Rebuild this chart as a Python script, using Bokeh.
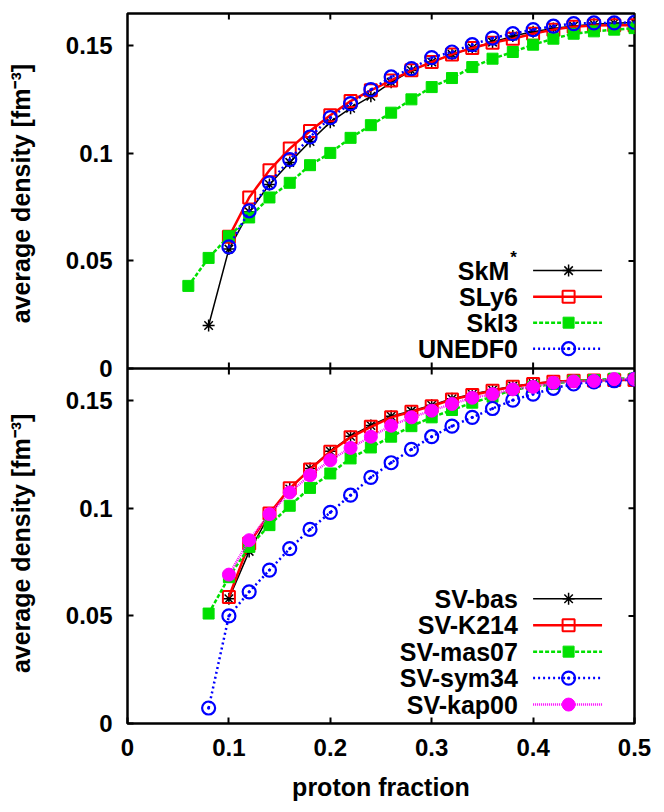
import math
from bokeh.plotting import figure
from bokeh.models import Range1d, FixedTicker, CustomJSTickFormatter, Span
from bokeh.core.properties import value
from bokeh.embed import file_html
from bokeh.resources import INLINE

# ---------------- data ----------------
X_FROM_006 = [0.06, 0.08, 0.10, 0.12, 0.14, 0.16, 0.18, 0.20, 0.22, 0.24, 0.26, 0.28,
              0.30, 0.32, 0.34, 0.36, 0.38, 0.40, 0.42, 0.44, 0.46, 0.48, 0.50]
X_FROM_008 = X_FROM_006[1:]
X_FROM_010 = X_FROM_006[2:]

# top panel
skm_star = [0.0200, 0.0555, 0.0728, 0.0855, 0.0958, 0.1055, 0.1145, 0.1210, 0.1265, 0.1330,
            0.1385, 0.1425, 0.1460, 0.1490, 0.1517, 0.1545, 0.1565, 0.1580, 0.1592, 0.1600,
            0.1605, 0.1608]
sly6 = [0.0612, 0.0795, 0.0922, 0.1022, 0.1104, 0.1177, 0.1243, 0.1293, 0.1339, 0.1386,
        0.1424, 0.1460, 0.1490, 0.1514, 0.1533, 0.1556, 0.1575, 0.1588, 0.1594, 0.1595, 0.1595]
ski3 = [0.0384, 0.0514, 0.0615, 0.0702, 0.0795, 0.0863, 0.0945, 0.1002, 0.1072, 0.1131,
        0.1189, 0.1251, 0.1308, 0.1350, 0.1401, 0.1440, 0.1471, 0.1505, 0.1533, 0.1556,
        0.1567, 0.1575, 0.1582]
unedf0 = [0.0565, 0.0733, 0.0863, 0.0971, 0.1076, 0.1166, 0.1231, 0.1296, 0.1355, 0.1394,
          0.1445, 0.1471, 0.1505, 0.1536, 0.1556, 0.1575, 0.1591, 0.1603, 0.1606, 0.1606, 0.1609]

# bottom panel
sv_bas = [0.0580, 0.0800, 0.0970, 0.1090, 0.1185, 0.1265, 0.1335, 0.1385, 0.1428, 0.1453,
          0.1479, 0.1509, 0.1530, 0.1550, 0.1568, 0.1580, 0.1590, 0.1595, 0.1596, 0.1598, 0.1598]
sv_k214 = [0.0588, 0.0837, 0.0976, 0.1093, 0.1181, 0.1263, 0.1330, 0.1379, 0.1423, 0.1449,
           0.1475, 0.1506, 0.1527, 0.1547, 0.1565, 0.1578, 0.1588, 0.1593, 0.1594, 0.1596, 0.1596]
sv_mas07 = [0.0511, 0.0680, 0.0821, 0.0922, 0.1012, 0.1095, 0.1162, 0.1232, 0.1283, 0.1333,
            0.1382, 0.1423, 0.1457, 0.1491, 0.1519, 0.1550, 0.1565, 0.1578, 0.1593, 0.1596,
            0.1603, 0.1603]
sv_sym34 = [0.0072, 0.0500, 0.0612, 0.0713, 0.0813, 0.0902, 0.0981, 0.1061, 0.1144, 0.1212,
            0.1274, 0.1333, 0.1382, 0.1423, 0.1464, 0.1503, 0.1531, 0.1558, 0.1578, 0.1588,
            0.1593, 0.1600]
sv_kap00 = [0.0692, 0.0852, 0.0973, 0.1074, 0.1154, 0.1224, 0.1281, 0.1333, 0.1384, 0.1423,
            0.1454, 0.1485, 0.1514, 0.1531, 0.1553, 0.1565, 0.1584, 0.1590, 0.1592, 0.1601, 0.1601]

XTICKS = [0.0, 0.1, 0.2, 0.3, 0.4, 0.5]
YTICKS = [0.0, 0.05, 0.1, 0.15]
X_LABEL = "proton fraction"
Y_LABEL = "average density [fm\u207b\u00b3]"
TOP_NAMES = ["SkM", "SLy6", "SkI3", "UNEDF0"]
BOTTOM_NAMES = ["SV-bas", "SV-K214", "SV-mas07", "SV-sym34", "SV-kap00"]

# ---------------- styling ----------------
FONT = "Liberation Sans"
PANEL_MAX = 0.165
XMAX = 0.5
BORDER_L, BORDER_R, BORDER_T, BORDER_B = 127, 30, 13, 87
W, H = 664, 810
YLABEL_GAP = 13  # non-breaking spaces separating the two stacked panel titles

STYLES = [
    dict(color="black", width=1.5, dash="solid", marker="asterisk", size=12, fill=None, mlw=1.5),
    dict(color="#ff0000", width=2.5, dash="solid", marker="square", size=12, fill=None, mlw=2),
    dict(color="#00e000", width=2.5, dash="4 2", marker="square", size=11, fill="#00e000", mlw=1),
    dict(color="#0000ff", width=2.5, dash="2 3", marker="circle_dot", size=13, fill=None, mlw=2.2),
    dict(color="#ff00ff", width=2.5, dash="1 1", marker="circle", size=13, fill="#ff00ff", mlw=1),
]

p = figure(width=W, height=H, x_range=Range1d(0, XMAX), y_range=Range1d(0, 2 * PANEL_MAX),
           output_backend="svg", toolbar_location=None,
           min_border_left=BORDER_L, min_border_right=BORDER_R,
           min_border_top=BORDER_T, min_border_bottom=BORDER_B)
p.xgrid.grid_line_color = None
p.ygrid.grid_line_color = None
p.outline_line_color = "black"
p.outline_line_width = 2.5
p.background_fill_color = "white"
p.border_fill_color = "white"

y_ticker = FixedTicker(ticks=YTICKS + [t + PANEL_MAX for t in YTICKS])
x_ticker = FixedTicker(ticks=XTICKS)
y_fmt = CustomJSTickFormatter(args=dict(off=PANEL_MAX), code="""
    let v = tick >= off - 1e-9 ? tick - off : tick;
    return String(Number(v.toFixed(3)));
""")
x_fmt = CustomJSTickFormatter(code="return String(Number(tick.toFixed(3)));")


def style_axis(ax):
    ax.axis_line_color = None
    ax.major_tick_in = 6
    ax.major_tick_out = 0
    ax.major_tick_line_width = 2
    ax.minor_tick_line_color = None
    ax.major_label_text_font = FONT
    ax.major_label_text_font_style = "bold"
    ax.major_label_text_font_size = "24px"
    ax.major_label_text_color = "black"
    ax.axis_label_text_font = FONT
    ax.axis_label_text_font_style = "bold"
    ax.axis_label_text_font_size = "25px"
    ax.axis_label_text_color = "black"


xa = p.xaxis[0]
xa.ticker = x_ticker
xa.formatter = x_fmt
style_axis(xa)
xa.major_label_standoff = 15
xa.axis_label = X_LABEL
xa.axis_label_standoff = 14

ya = p.yaxis[0]
ya.ticker = y_ticker
ya.formatter = y_fmt
style_axis(ya)
ya.major_label_standoff = 15
# one title per panel: bottom panel's title first (text runs bottom to top)
ya.axis_label = Y_LABEL + "\u00a0" * YLABEL_GAP + Y_LABEL
ya.axis_label_standoff = 28

# mirrored ticks on the right and top edges, and on the border between the panels
right_ticks = YTICKS[1:] + [t + PANEL_MAX for t in YTICKS[1:]]
p.scatter(x=[XMAX] * len(right_ticks), y=right_ticks, marker="dash", size=12,
          line_color="black", line_width=2)
p.scatter(x=XTICKS[1:-1], y=[2 * PANEL_MAX] * (len(XTICKS) - 2), marker="dash", angle=math.pi / 2,
          size=12, line_color="black", line_width=2)
p.add_layout(Span(location=PANEL_MAX, dimension="width", line_color="black", line_width=2.5))
p.scatter(x=XTICKS[1:-1], y=[PANEL_MAX] * (len(XTICKS) - 2), marker="dash", angle=math.pi / 2,
          size=12, line_color="black", line_width=2)

top = p.subplot(x_source=Range1d(0, XMAX), y_source=Range1d(0, PANEL_MAX),
                x_target=Range1d(0, XMAX), y_target=Range1d(PANEL_MAX, 2 * PANEL_MAX))
bot = p.subplot(x_source=Range1d(0, XMAX), y_source=Range1d(0, PANEL_MAX),
                x_target=Range1d(0, XMAX), y_target=Range1d(0, PANEL_MAX))


def draw(ax, xs, ys, st):
    ax.line(xs, ys, line_color=st["color"], line_width=st["width"], line_dash=st["dash"])
    ax.scatter(xs, ys, marker=st["marker"], size=st["size"], line_color=st["color"],
               line_width=st["mlw"], fill_color=st["fill"])


top_series = [(X_FROM_008, skm_star), (X_FROM_010, sly6), (X_FROM_006, ski3), (X_FROM_010, unedf0)]
top_styles = [STYLES[0], STYLES[1], STYLES[2], STYLES[3]]
for (xs, ys), st in zip(top_series, top_styles):
    draw(top, xs, ys, st)

bot_series = [(X_FROM_010, sv_bas), (X_FROM_010, sv_k214), (X_FROM_008, sv_mas07),
              (X_FROM_008, sv_sym34), (X_FROM_010, sv_kap00)]
for (xs, ys), st in zip(bot_series, STYLES):
    draw(bot, xs, ys, st)

# ---------------- legends (text left, sample right) ----------------
LEG_TEXT_X = 0.385
LEG_LINE_X0 = 0.400
LEG_LINE_X1 = 0.468
LEG_MARK_X = 0.435


def legend(ax, names, styles, y0, step, sup_first=False):
    for i, (name, st) in enumerate(zip(names, styles)):
        y = y0 - i * step
        tx = LEG_TEXT_X - (0.0085 if (sup_first and i == 0) else 0.0)
        ax.text(x=[tx], y=[y], text=[name], text_align="right", text_baseline="middle",
                text_font=value(FONT), text_font_style="bold", text_font_size="25px",
                text_color="black")
        if sup_first and i == 0:
            ax.text(x=[tx + 0.001], y=[y], text=["*"], text_align="left", text_baseline="middle",
                    y_offset=-13, text_font=value(FONT), text_font_style="bold",
                    text_font_size="17px", text_color="black")
        ax.line([LEG_LINE_X0, LEG_LINE_X1], [y, y], line_color=st["color"], line_width=st["width"],
                line_dash=st["dash"])
        ax.scatter([LEG_MARK_X], [y], marker=st["marker"], size=st["size"], line_color=st["color"],
                   line_width=st["mlw"], fill_color=st["fill"])


legend(top, TOP_NAMES, top_styles, 0.0455, 0.0121, sup_first=True)
legend(bot, BOTTOM_NAMES, STYLES, 0.0580, 0.0123)

open("out.html", "w").write(file_html(p, INLINE))
